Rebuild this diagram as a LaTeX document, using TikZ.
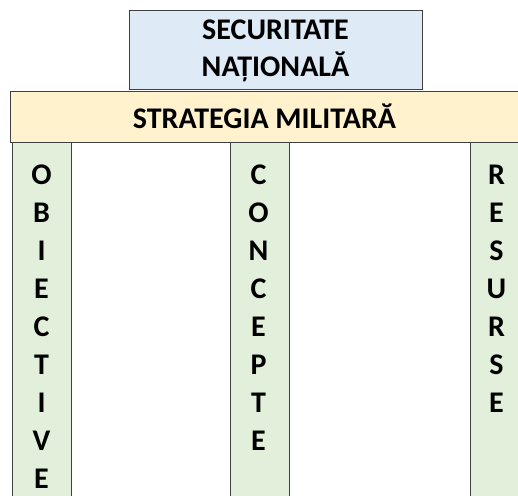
\documentclass[tikz,border=0pt]{standalone}
\usepackage{fontspec}
\setmainfont{Carlito}
\definecolor{edge}{HTML}{404040}
\definecolor{blueF}{HTML}{DEEAF6}
\definecolor{yellowF}{HTML}{FFF2CC}
\definecolor{greenF}{HTML}{E2EFDA}
\begin{document}
\begin{tikzpicture}[x=1pt,y=-1pt,
  boxbase/.style={draw=edge,line width=1pt,inner sep=0pt,outer sep=0pt},
  txt/.style={font=\bfseries\fontsize{30}{30}\selectfont,inner sep=0pt,anchor=base,text=black}]
\useasboundingbox (0,0) rectangle (518,495);
\begin{scope}
\clip (0,0) rectangle (518,495);
% top box
\path[boxbase,fill=blueF] (129,11) rectangle (422,89);
\node[draw=none,minimum width=293pt,minimum height=78pt,inner sep=0pt] (sec) at (275.5,50) {};
% bar
\path[boxbase,fill=yellowF] (10,91) rectangle (540,142);
\node[draw=none,minimum width=530pt,minimum height=51pt,inner sep=0pt] (strat) at (275,116.5) {};
% columns
\path[boxbase,fill=greenF] (12,142) rectangle (71,520);
\path[boxbase,fill=greenF] (230,142) rectangle (289,520);
\path[boxbase,fill=greenF] (470,142) rectangle (529,520);
\end{scope}
\node[txt] (t1) at (275.5,39) {SECURITATE};
\node[txt] (t2) at (275.5,76) {NAȚIONALĂ};
\node[txt] (t3) at (264.5,128) {STRATEGIA MILITARĂ};
\foreach \l [count=\i] in {O,B,I,E,C,T,I,V,E}
  \node[txt] (ob\i) at (41.5,{175+9+38*(\i-1)}) {\l};
\foreach \l [count=\i] in {C,O,N,C,E,P,T,E}
  \node[txt] (co\i) at (258.5,{175+9+38*(\i-1)}) {\l};
\foreach \l [count=\i] in {R,E,S,U,R,S,E}
  \node[txt] (re\i) at (496.5,{175+9+38*(\i-1)}) {\l};
\end{tikzpicture}
\end{document}
